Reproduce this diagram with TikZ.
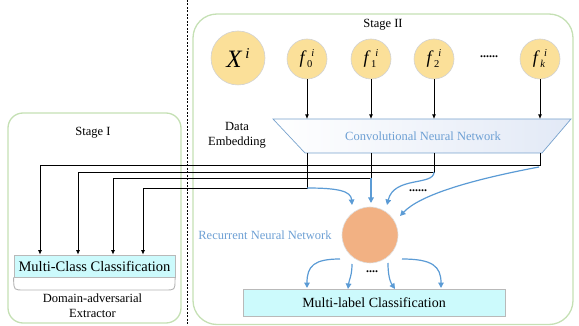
\documentclass[tikz,border=0pt]{standalone}
\usepackage{fontspec}
\setmainfont{Liberation Serif}
\usetikzlibrary{arrows.meta}
\definecolor{stagegreen}{RGB}{197,224,180}
\definecolor{circyellow}{RGB}{251,224,153}
\definecolor{rnnorange}{RGB}{242,177,131}
\definecolor{cyanfill}{RGB}{204,250,252}
\definecolor{arrowblue}{RGB}{91,155,213}
\definecolor{textblue}{RGB}{110,160,212}
\definecolor{trapborder}{RGB}{120,162,205}
\definecolor{trapfill}{RGB}{226,233,246}
\newcommand{\fsym}[1]{\fontsize{18}{18}\selectfont\textit{f}\hspace{0.5pt}\raisebox{-4pt}{\fontsize{10.5}{10.5}\selectfont #1}\hspace{-1pt}\raisebox{7pt}{\fontsize{10.5}{10.5}\selectfont\textit{i}}}
\begin{document}
\begin{tikzpicture}[x=1pt,y=-1pt,
  font=\fontsize{12.5}{15}\selectfont,
  blk/.style={-{Latex[length=4.5pt,width=3.8pt]}, black, line width=0.7pt},
  blu/.style={-{Triangle[length=5.5pt,width=5.5pt]}, arrowblue, line width=1.2pt},
  yc/.style={circle, fill=circyellow, draw=gray!35, line width=0.6pt, minimum size=40pt, inner sep=0pt},
  stagebox/.style={draw=stagegreen, line width=1.3pt},
  classbox/.style={draw=gray!55, fill=cyanfill, line width=0.7pt, inner sep=0pt},
  dotsty/.style={font=\fontsize{12}{12}\selectfont\bfseries}]
\useasboundingbox (0,0) rectangle (579,326);
% dashed separator
\draw[line width=0.7pt, dash pattern=on 2pt off 1.5pt] (187,0) -- (187,326);
% stage boxes
\draw[stagebox, rounded corners=24pt] (193,14) rectangle (573,324.5);
\draw[stagebox, rounded corners=15pt] (8,113) rectangle (181,323);
\node (s2) at (383,25) {Stage II};
\node (s1) at (93,133) {Stage I};
% input circles
\node[yc, minimum size=54pt] (X) at (238,58) {\fontsize{25}{25}\selectfont\textit{X}\hspace{3pt}\raisebox{9pt}{\fontsize{15}{15}\selectfont\textit{i}}};
\node[yc] (f0) at (307,59) {\fsym{0}};
\node[yc] (f1) at (371,59) {\fsym{1}};
\node[yc] (f2) at (434,59) {\fsym{2}};
\node[yc] (fk) at (540,59) {\fsym{\textit{k}}};
\node[dotsty] (fdots) at (489,57) {......};
% CNN trapezoid
\coordinate (tl) at (273,119);
\coordinate (tr) at (571,119);
\coordinate (br) at (542,153);
\coordinate (bl) at (305,153);
\shade[left color=white, right color=trapfill] (tl) -- (tr) -- (br) -- (bl) -- cycle;
\draw[trapborder, line width=0.7pt] (tl) -- (tr) -- (br) -- (bl) -- cycle;
\node[text=textblue] (cnn) at (423,136) {Convolutional Neural Network};
\node[align=center, font=\fontsize{12.5}{15}\selectfont] (de) at (237,135) {Data\\Embedding};
\foreach \f in {f0,f1,f2,fk}{\draw[blk] (\f.south) -- (\f |- tl);}
% multi-class classification
\node[classbox, minimum width=161pt, minimum height=22pt, font=\fontsize{14.5}{15}\selectfont] (mc) at (94.5,266) {Multi-Class Classification};
\draw[gray!60, line width=0.9pt] (mc.south west) -- ++(0,3) .. controls (14,290) .. (24,290) -- (165,290) .. controls (175,290) .. (175,280) -- (mc.south east);
\node[align=center] (dae) at (92.5,306) {Domain-adversarial\\Extractor};
% feature lines to stage I
\coordinate (hk) at (40,165);
\coordinate (h2) at (78,172);
\coordinate (h1) at (113,178);
\coordinate (h0) at (143,188);
\draw[blk] (fk |- bl) |- (hk) -- (hk |- mc.north);
\draw[blk] (f2 |- bl) |- (h2) -- (h2 |- mc.north);
\draw[blk] (f1 |- bl) |- (h1) -- (h1 |- mc.north);
\draw[blk] (f0 |- bl) |- (h0) -- (h0 |- mc.north);
% RNN
\node[circle, fill=rnnorange, draw=gray!25, line width=0.6pt, minimum size=56pt, inner sep=0pt] (rnn) at (370,235) {};
\node[text=textblue] (rnnlab) at (265,235) {Recurrent Neural Network};
% blue arrows into RNN
\coordinate (e0) at (f0 |- h0);
\coordinate (e1) at (f1 |- h1);
\coordinate (e2) at (f2 |- h2);
\coordinate (ek) at (fk |- hk);
\draw[blu] (e0) .. controls (338,188) and (351,191) .. (352,205);
\draw[blu] (e1) -- (371,203);
\draw[blu] (e2) .. controls (434,186) and (394,176) .. (387,205);
\draw[blu] (539,167) .. controls (470,180) and (420,195) .. (400,216);
\node[dotsty] (rdots) at (418,191) {......};
% multi-label classification
\node[classbox, minimum width=262pt, minimum height=27pt, font=\fontsize{14}{15}\selectfont] (ml) at (374,302.5) {Multi-label Classification};
\draw[blu] (340,259) .. controls (314,259) and (307,266) .. (307,288);
\draw[blu] (352,264) .. controls (352,276) and (349,280) .. (348,289);
\draw[blu] (388,263) .. controls (388,278) and (391,283) .. (395,289);
\draw[blu] (402,259) .. controls (432,259) and (441,266) .. (441,288);
\node[dotsty] (bdots) at (372,272) {....};
\end{tikzpicture}
\end{document}
